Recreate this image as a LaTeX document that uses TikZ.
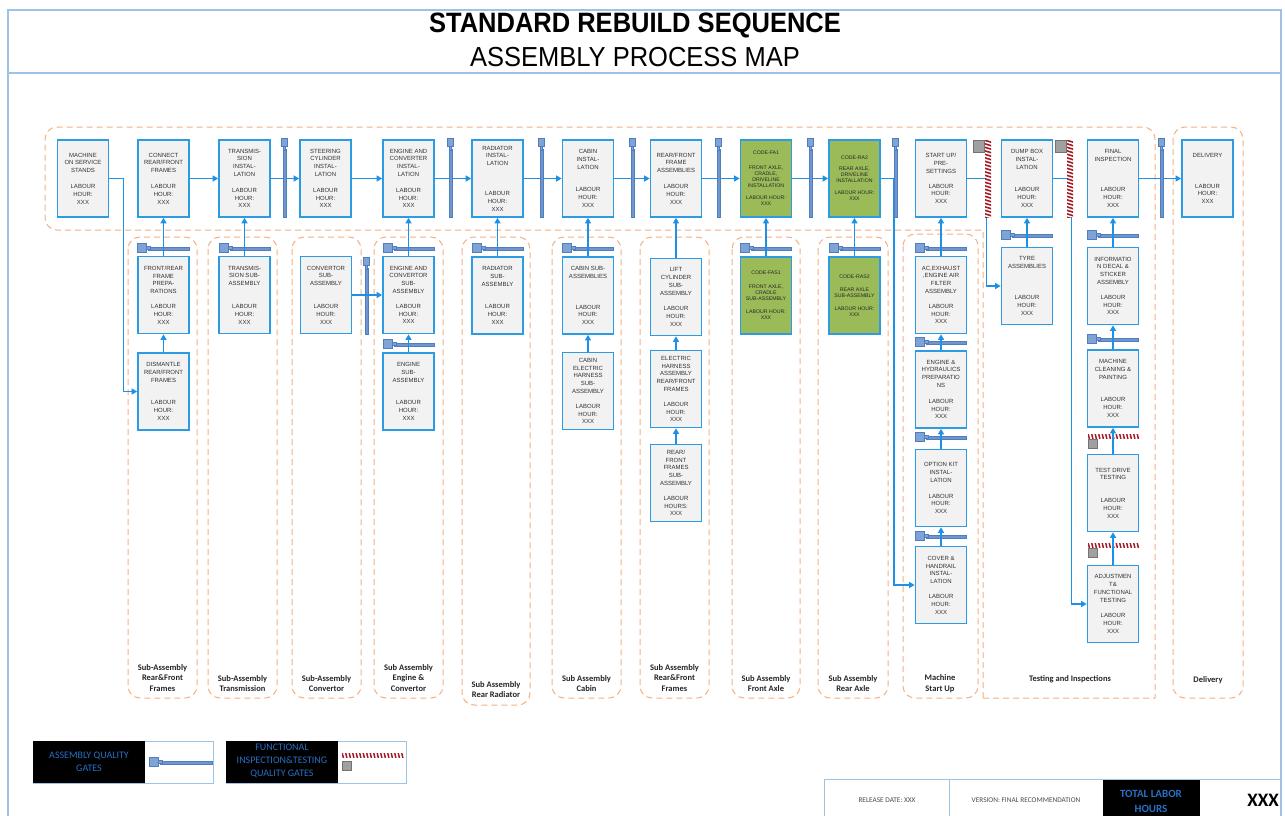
\documentclass[tikz,border=0pt]{standalone}
\usepackage{fontspec}
\setmainfont{Liberation Sans}
\newfontfamily\calfont{Carlito}
\usetikzlibrary{arrows.meta}

\definecolor{framebl}{RGB}{157,195,230}
\definecolor{boxbl}{RGB}{45,155,225}
\definecolor{boxfill}{RGB}{242,242,242}
\definecolor{arrbl}{RGB}{30,144,230}
\definecolor{gatefill}{RGB}{128,163,214}
\definecolor{gatedraw}{RGB}{80,125,190}
\definecolor{gatebar}{RGB}{112,150,208}
\definecolor{orangedash}{RGB}{244,177,131}
\definecolor{greenfill}{RGB}{155,187,89}
\definecolor{txtgray}{RGB}{50,50,50}
\definecolor{legblue}{RGB}{40,112,195}
\definecolor{stripered}{RGB}{165,28,40}
\definecolor{gategray}{RGB}{160,160,160}

\tikzset{
  pbox/.style={draw=boxbl, line width=1.7pt, fill=boxfill, minimum width=51pt,
    minimum height=77pt, inner sep=1pt, align=center, text=txtgray,
    font=\fontsize{6}{7.8}\selectfont},
  gbox/.style={pbox, fill=greenfill, text=black!85, font=\fontsize{5.2}{6}\selectfont},
  flow/.style={draw=arrbl, line width=1.3pt, -{Triangle[length=5.5pt,width=6pt]}},
  grp/.style={draw=orangedash, line width=1pt, dash pattern=on 6pt off 4pt, rounded corners=12pt},
  grplabel/.style={font=\calfont\bfseries\fontsize{8.5}{10.8}\selectfont, align=center, text=black!85},
  legtext/.style={font=\calfont\fontsize{10}{13}\selectfont, text=legblue, align=center},
}

% assembly quality gate, standing: x, top y, bottom y
\newcommand\vgate[3]{%
  \fill[gatebar,draw=gatedraw,line width=0.4pt] (#1-1.7,#2+11) rectangle (#1+1.7,#3);
  \fill[gatefill,draw=gatedraw,line width=0.5pt] (#1-1,#2+8) rectangle (#1+1,#2+12);
  \fill[gatefill,draw=gatedraw,line width=0.5pt] (#1-3,#2) rectangle (#1+3,#2+8.5);
}
% assembly quality gate, lying: left x, centre y, right end x
\newcommand\hgate[3]{%
  \fill[gatebar,draw=gatedraw,line width=0.4pt] (#1+11,#2-0.6) rectangle (#3,#2+2.2);
  \fill[gatefill,draw=gatedraw,line width=0.5pt] (#1+8.5,#2-1.5) rectangle (#1+13,#2+1.5);
  \fill[gatefill,draw=gatedraw,line width=0.5pt] (#1,#2-4.5) rectangle (#1+9,#2+4.5);
}
% functional testing gate, standing: stripe x, top y, bottom y
\newcommand\fgatev[3]{%
  \fill[gategray,draw=black!55,line width=0.4pt] (#1-12,#2) rectangle (#1-1,#2+12);
  \begin{scope}
    \clip (#1,#2) rectangle (#1+6,#3);
    \fill[white] (#1,#2) rectangle (#1+6,#3);
    \foreach \k in {0,3.5,...,80} \draw[stripered,line width=1.6pt] (#1-1,#2+\k) -- (#1+7,#2+\k+2.5);
  \end{scope}
}
% functional testing gate, lying: left x, stripe top y, right end x, square top y
\newcommand\fgateh[4]{%
  \fill[gategray,draw=black!55,line width=0.4pt] (#1,#4) rectangle (#1+9,#4+9);
  \begin{scope}
    \clip (#1,#2) rectangle (#3,#2+4.5);
    \fill[white] (#1,#2) rectangle (#3,#2+4.5);
    \foreach \k in {0,3.5,...,70} \draw[stripered,line width=1.5pt] (#1+\k,#2-1) -- (#1+\k+1.5,#2+5.5);
  \end{scope}
}

\begin{document}
\begin{tikzpicture}[x=1pt,y=-1pt]
\useasboundingbox (0,0) rectangle (1285,816);
\fill[white] (0,0) rectangle (1285,816);

% page frame and title
\draw[framebl, line width=1.2pt] (8,816) -- (8,10) -- (1281,10) -- (1281,816);
\draw[framebl, line width=1.2pt] (8,73) -- (1281,73);
\node[font=\bfseries\fontsize{25}{30}\selectfont, inner sep=0pt] (title) at (635,25.5) {\scalebox{1.02}[1.12]{STANDARD REBUILD SEQUENCE}};
\node[font=\fontsize{25}{30}\selectfont, inner sep=0pt] (subtitle) at (635,57) {\scalebox{1.02}[1.1]{ASSEMBLY PROCESS MAP}};

% group outlines: main line joined with the testing area, then the other groups
\draw[grp, sharp corners] (983,698) -- (983,230) [rounded corners=12pt] -- (45,230) -- (45,127)
  -- (1155,127) -- (1155,260) [sharp corners] -- (1155,698) -- cycle;
\draw[grp] (1173,127) rectangle (1243,698);
\draw[grp] (128,237) rectangle (197,698);
\draw[grp] (208,237) rectangle (277,698);
\draw[grp] (292,237) rectangle (361,698);
\draw[grp] (374,237) rectangle (443,698);
\draw[grp] (462,237) rectangle (530,705);
\draw[grp] (552,237) rectangle (621,698);
\draw[grp] (640,237) rectangle (709,698);
\draw[grp] (732,237) rectangle (800,698);
\draw[grp] (818,237) rectangle (888,698);
\draw[grp] (903,234) rectangle (978,698);

% group labels
\node[grplabel] (g1) at (162.5,678) {Sub-Assembly\\Rear\&Front\\Frames};
\node[grplabel] (g2) at (242.5,683.5) {Sub-Assembly\\Transmission};
\node[grplabel] (g3) at (326.5,683.5) {Sub-Assembly\\Convertor};
\node[grplabel] (g4) at (408.5,678) {Sub Assembly\\Engine \&\\Convertor};
\node[grplabel] (g5) at (496,689.5) {Sub Assembly\\Rear Radiator};
\node[grplabel] (g6) at (586.5,683.5) {Sub Assembly\\Cabin};
\node[grplabel] (g7) at (674.5,678) {Sub Assembly\\Rear\&Front\\Frames};
\node[grplabel] (g8) at (766,683.5) {Sub Assembly\\Front Axle};
\node[grplabel] (g9) at (853,683.5) {Sub Assembly\\Rear Axle};
\node[grplabel] (g10) at (940,683.5) {Machine\\Start Up};
\node[grplabel] (g11) at (1070,679) {Testing and Inspections};
\node[grplabel] (g12) at (1208,680) {Delivery};

% main line
\node[pbox] (mach) at (83,178.5) {MACHINE\\ON SERVICE\\STANDS\\[8pt]LABOUR\\HOUR:\\XXX};
\node[pbox] (conn) at (163.5,178.5) {CONNECT\\REAR/FRONT\\FRAMES\\[8pt]LABOUR\\HOUR:\\XXX};
\node[pbox] (trans) at (244.5,178.5) {TRANSMIS-\\SION\\INSTAL-\\LATION\\[8pt]LABOUR\\HOUR:\\XXX};
\node[pbox] (steer) at (325.5,178.5) {STEERING\\CYLINDER\\INSTAL-\\LATION\\[8pt]LABOUR\\HOUR:\\XXX};
\node[pbox] (eng) at (408.5,178.5) {ENGINE AND\\CONVERTER\\INSTAL-\\LATION\\[8pt]LABOUR\\HOUR:\\XXX};
\node[pbox] (rad) at (497.5,178.5) {RADIATOR\\INSTAL-\\LATION\\[22pt]LABOUR\\HOUR:\\XXX};
\node[pbox] (cab) at (588,178.5) {CABIN\\INSTAL-\\LATION\\[15pt]LABOUR\\HOUR:\\XXX};
\node[pbox] (rfa) at (676,178.5) {REAR/FRONT\\FRAME\\ASSEMBLIES\\[8pt]LABOUR\\HOUR:\\XXX};
\node[gbox] (fa1) at (766,178.5) {CODE-FA1\\[9pt]FRONT AXLE,\\CRADLE,\\DRIVELINE\\INSTALLATION\\[6pt]LABOUR HOUR:\\XXX};
\node[gbox] (ra2) at (854.5,178.5) {CODE-RA2\\[5pt]REAR AXLE,\\DRIVELINE\\INSTALLATION\\[6pt]LABOUR HOUR:\\XXX};
\node[pbox] (start) at (941,178.5) {START UP/\\PRE-\\SETTINGS\\[7pt]LABOUR\\HOUR:\\XXX};
\node[pbox] (dump) at (1027,178.5) {DUMP BOX\\INSTAL-\\LATION\\[15pt]LABOUR\\HOUR:\\XXX};
\node[pbox] (final) at (1113,178.5) {FINAL\\INSPECTION\\[22pt]LABOUR\\HOUR:\\XXX};
\node[pbox] (deliv) at (1207.5,178.5) {DELIVERY\\[23pt]LABOUR\\HOUR:\\XXX};

% sub-assemblies
\node[pbox] (frp) at (163.5,295) {FRONT/REAR\\FRAME\\PREPA-\\RATIONS\\[7pt]LABOUR\\HOUR:\\XXX};
\node[pbox] (dis) at (163.5,391.5) {DISMANTLE\\REAR/FRONT\\FRAMES\\[15pt]LABOUR\\HOUR:\\XXX};
\node[pbox] (tsub) at (244.5,295) {TRANSMIS-\\SION SUB-\\ASSEMBLY\\[15pt]LABOUR\\HOUR:\\XXX};
\node[pbox] (csub) at (326,295) {CONVERTOR\\SUB-\\ASSEMBLY\\[15pt]LABOUR\\HOUR:\\XXX};
\node[pbox] (ecsub) at (408.5,295) {ENGINE AND\\CONVERTOR\\SUB-\\ASSEMBLY\\[7pt]LABOUR\\HOUR:\\XXX};
\node[pbox] (esub) at (408.5,391.5) {ENGINE\\SUB-\\ASSEMBLY\\[15pt]LABOUR\\HOUR:\\XXX};
\node[pbox] (rsub) at (497.5,295.5) {RADIATOR\\SUB-\\ASSEMBLY\\[15pt]LABOUR\\HOUR:\\XXX};
\node[pbox] (cbsub) at (588,295.5) {CABIN SUB-\\ASSEMBLIES\\[23pt]LABOUR\\HOUR:\\XXX};
\node[pbox] (cbel) at (588,391) {CABIN\\ELECTRIC\\HARNESS\\SUB-\\ASSEMBLY\\[7pt]LABOUR\\HOUR:\\XXX};
\node[pbox] (lift) at (676,297) {LIFT\\CYLINDER\\SUB-\\ASSEMBLY\\[8pt]LABOUR\\HOUR:\\XXX};
\node[pbox] (harn) at (676,389) {ELECTRIC\\HARNESS\\ASSEMBLY\\REAR/FRONT\\FRAMES\\[7pt]LABOUR\\HOUR:\\XXX};
\node[pbox] (rfsub) at (676,483) {REAR/\\FRONT\\FRAMES\\SUB-\\ASSEMBLY\\[7pt]LABOUR\\HOURS:\\XXX};
\node[gbox] (fas1) at (766,295.5) {CODE-FAS1\\[8pt]FRONT AXLE,\\CRADLE\\SUB-ASSEMBLY\\[7pt]LABOUR HOUR:\\XXX};
\node[gbox] (ras2) at (854.5,295.5) {CODE-RAS2\\[7pt]REAR AXLE\\SUB-ASSEMBLY\\[7pt]LABOUR HOUR:\\XXX};
\node[pbox] (ac) at (941,295) {AC,EXHAUST\\,ENGINE AIR\\FILTER\\ASSEMBLY\\[7pt]LABOUR\\HOUR:\\XXX};
\node[pbox] (hyd) at (941,389.5) {ENGINE \&\\HYDRAULICS\\PREPARATIO\\NS\\[8pt]LABOUR\\HOUR:\\XXX};
\node[pbox] (opt) at (941,488) {OPTION KIT\\INSTAL-\\LATION\\[8pt]LABOUR\\HOUR:\\XXX};
\node[pbox] (cov) at (941,585) {COVER \&\\HANDRAIL\\INSTAL-\\LATION\\[7pt]LABOUR\\HOUR:\\XXX};
\node[pbox] (tyre) at (1027,286) {TYRE\\ASSEMBLIES\\[23pt]LABOUR\\HOUR:\\XXX};
\node[pbox] (info) at (1113,286) {INFORMATIO\\N DECAL \&\\STICKER\\ASSEMBLY\\[7pt]LABOUR\\HOUR:\\XXX};
\node[pbox] (clean) at (1113,388.5) {MACHINE\\CLEANING \&\\PAINTING\\[15pt]LABOUR\\HOUR:\\XXX};
\node[pbox] (test) at (1113,493) {TEST DRIVE\\TESTING\\[15pt]LABOUR\\HOUR:\\XXX};
\node[pbox] (adj) at (1113,604) {ADJUSTMEN\\T\&\\FUNCTIONAL\\TESTING\\[8pt]LABOUR\\HOUR:\\XXX};

% assembly quality gates in the sub-assembly groups
\hgate{137.5}{247.5}{189}
\hgate{219}{247.5}{270}
\hgate{383}{247.5}{434}
\hgate{383}{344}{434}
\hgate{472}{247.5}{523}
\hgate{562.5}{247.5}{613.5}
\hgate{740.5}{247.5}{791.5}
\hgate{829}{247.5}{880}
\hgate{915.5}{247.5}{966.5}
\hgate{915.5}{342}{966.5}
\hgate{915.5}{437}{966.5}
\hgate{915.5}{536}{966.5}
\hgate{1001.5}{235}{1052.5}
\hgate{1087.5}{235}{1138.5}
\hgate{1087.5}{338.5}{1138.5}
\vgate{366.5}{257}{334}
\fgateh{1088}{434}{1139}{439}
\fgateh{1088}{543}{1139}{548}

% process flow
\draw[flow] (conn) -- (trans);
\draw[flow] (trans) -- (steer);
\draw[flow] (steer) -- (eng);
\draw[flow] (eng) -- (rad);
\draw[flow] (rad) -- (cab);
\draw[flow] (cab) -- (rfa);
\draw[flow] (rfa) -- (fa1);
\draw[flow] (fa1) -- (ra2);
\draw[flow] (final) -- (deliv);
\draw[flow] (mach.east) -- ++(14,0) |- (dis.west);
\draw[flow] (ra2.east) -- ++(13,0) |- (cov.west);
\draw[flow] (start.east) -- ++(19,0) |- (tyre.west);
\draw[flow] (dump.east) -- ++(18,0) |- (adj.west);
\draw[flow] (dis) -- (frp);
\draw[flow] (frp) -- (conn);
\draw[flow] (tsub) -- (trans);
\draw[flow] (csub) -- (ecsub);
\draw[flow] (esub) -- (ecsub);
\draw[flow] (ecsub) -- (eng);
\draw[flow] (rsub) -- (rad);
\draw[flow] (cbel) -- (cbsub);
\draw[flow] (cbsub) -- (cab);
\draw[flow] (rfsub) -- (harn);
\draw[flow] (harn) -- (lift);
\draw[flow] (lift) -- (rfa);
\draw[flow] (fas1) -- (fa1);
\draw[flow] (ras2) -- (ra2);
\draw[flow] (cov) -- (opt);
\draw[flow] (opt) -- (hyd);
\draw[flow] (hyd) -- (ac);
\draw[flow] (ac) -- (start);
\draw[flow] (tyre) -- (dump);
\draw[flow] (adj) -- (test);
\draw[flow] (test) -- (clean);
\draw[flow] (clean) -- (info);
\draw[flow] (info) -- (final);

% gates on the main line
\foreach \gx in {284.5,450.5,541.5,632.5,718.5,810.5,895.5,1161.5} {\vgate{\gx}{138}{217}}
\fgatev{985}{140}{217}
\fgatev{1067}{140}{217}

% legend
\draw[framebl, line width=1pt] (33,741) rectangle (213,783);
\fill[black] (33,741) rectangle (145,783);
\node[legtext] (leg1) at (89,762) {ASSEMBLY QUALITY\\GATES};
\hgate{149}{761.5}{212}
\draw[framebl, line width=1pt] (226,741) rectangle (406,783);
\fill[black] (226,741) rectangle (338,783);
\node[legtext] (leg2) at (282,761) {FUNCTIONAL\\INSPECTION\&TESTING\\QUALITY GATES};
\fgateh{342}{753}{404}{761}

% footer
\draw[framebl, line width=1pt] (824,816) -- (824,779) -- (1281,779);
\draw[framebl, line width=1pt] (949,779) -- (949,816);
\fill[black] (1103,780) rectangle (1200,816);
\node[font=\calfont\fontsize{7.3}{9}\selectfont, text=black!70] (rel) at (887,800) {RELEASE DATE: XXX};
\node[font=\calfont\fontsize{7.3}{9}\selectfont, text=black!70] (ver) at (1026,800) {VERSION: FINAL RECOMMENDATION};
\node[font=\calfont\bfseries\fontsize{11}{15}\selectfont, text=legblue, align=center] (tot) at (1151,801) {TOTAL LABOR\\HOURS};
\node[font=\calfont\bfseries\fontsize{19}{22}\selectfont] (totx) at (1263,800) {XXX};
\end{tikzpicture}
\end{document}
